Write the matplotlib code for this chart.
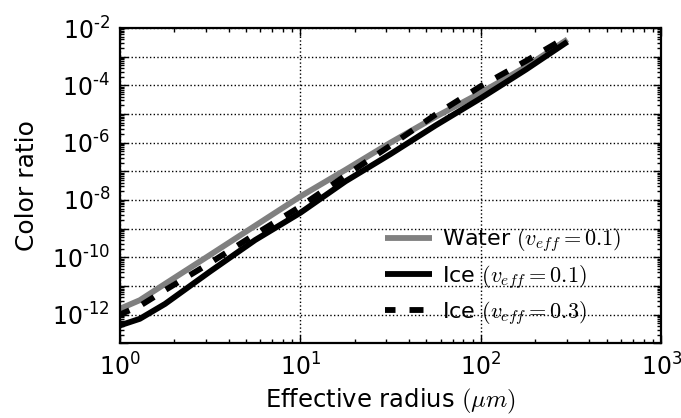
import numpy as np
import matplotlib
matplotlib.use("Agg")
import matplotlib.pyplot as plt
from matplotlib.ticker import LogLocator, FuncFormatter, NullFormatter

# ---- data ----
radius = [1.0, 1.29, 1.78, 3.16, 5.62, 10.0, 17.8, 31.6, 56.2, 100.0, 178.0, 302.0]

# log10 of colour ratio
water_01_log = [-11.8, -11.5, -10.93, -9.92, -8.9, -7.88, -6.95, -6.0, -5.1, -4.26, -3.35, -2.4]
ice_01_log   = [-12.38, -12.15, -11.63, -10.5, -9.4, -8.45, -7.35, -6.4, -5.4, -4.45, -3.45, -2.48]
ice_03_log   = [-12.0, -11.7, -11.15, -10.2, -9.2, -8.23, -7.15, -6.1, -5.02, -4.03, -3.15, -2.3]

labels = [r"Water $(v_{eff}=0.1)$",
          r"Ice $(v_{eff}=0.1)$",
          r"Ice $(v_{eff}=0.3)$"]

plt.rcParams["font.family"] = "DejaVu Sans"
plt.rcParams["axes.unicode_minus"] = False


def decade_label(e):
    # short hyphen for the exponent sign, as in the original
    sign = "\u2010" if e < 0 else ""
    return r"$10^{%s%d}$" % (sign, abs(e))


def even_decades(val, pos):
    e = int(round(np.log10(val)))
    if e % 2 == 0:
        return decade_label(e)
    return ""


def all_decades(val, pos):
    return decade_label(int(round(np.log10(val))))


def main():
    fig = plt.figure(figsize=(6.81, 4.18), dpi=100)
    ax = fig.add_axes([0.176, 0.179, 0.795, 0.754])

    r = np.array(radius)
    ax.plot(r, 10 ** np.array(water_01_log), color="#808080", lw=4.2,
            solid_capstyle="butt", label=labels[0])
    ax.plot(r, 10 ** np.array(ice_01_log), color="black", lw=4.2,
            solid_capstyle="butt", label=labels[1])
    ax.plot(r, 10 ** np.array(ice_03_log), color="black", lw=4.2,
            ls=(0.6, (2.4, 2.4)), dash_capstyle="butt", label=labels[2])

    ax.set_xscale("log")
    ax.set_yscale("log")
    ax.set_xlim(1, 1e3)
    ax.set_ylim(1e-13, 1e-2)

    ax.xaxis.set_major_formatter(FuncFormatter(all_decades))
    ax.yaxis.set_major_locator(LogLocator(base=10, numticks=30))
    ax.yaxis.set_minor_locator(LogLocator(base=10, subs=np.arange(2, 10), numticks=30))
    ax.yaxis.set_major_formatter(FuncFormatter(even_decades))
    ax.yaxis.set_minor_formatter(NullFormatter())

    ax.grid(True, which="major", color="black", ls=":", lw=1.0)
    ax.tick_params(which="both", direction="in", top=True, right=True,
                   labelsize=17, width=1.0)
    ax.tick_params(which="major", length=6, pad=7)
    ax.tick_params(which="minor", length=3)
    for s in ax.spines.values():
        s.set_linewidth(1.6)

    ax.set_xlabel(r"Effective radius $(\mu m)$", fontsize=17.5,
                  math_fontfamily="cm", labelpad=5)
    ax.set_ylabel("Color ratio", fontsize=18, labelpad=9)

    ax.legend(loc="lower right", bbox_to_anchor=(0.963, -0.012), frameon=False,
              handlelength=2.1, labelspacing=0.38, handletextpad=0.45,
              prop={"size": 16, "math_fontfamily": "cm"})

    fig.savefig("out.png", dpi=100)


if __name__ == "__main__":
    main()
